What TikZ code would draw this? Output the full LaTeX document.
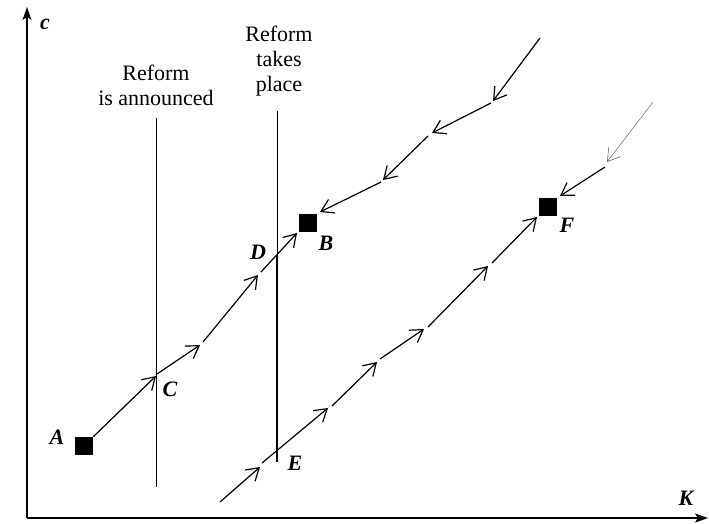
\documentclass[tikz,border=0pt]{standalone}
\usepackage{fontspec}
\setmainfont{Liberation Serif}
\usetikzlibrary{arrows.meta}
\begin{document}
\begin{tikzpicture}[x=1pt,y=-1pt,
  flow/.style={line width=1.2pt,-{Straight Barb[length=12pt,width=15pt,line width=1.2pt]}},
  thinflow/.style={line width=0.5pt,draw=black!60,-{Straight Barb[length=12pt,width=15pt,line width=0.6pt]}},
  axis/.style={line width=1.3pt,-{Stealth[length=13pt,width=9pt,inset=3pt]}},
  sq/.style={fill=black,minimum size=18pt,inner sep=0pt},
  lbl/.style={font=\fontsize{22}{22}\selectfont\bfseries\itshape},
  txt/.style={font=\fontsize{22}{25}\selectfont,align=center}]
\useasboundingbox (0,0) rectangle (709,524);
% axes
\coordinate (O) at (27,518);
\coordinate (Ytop) at (27,7);
\coordinate (Xend) at (708,518);
\draw[axis] (O) -- (Ytop);
\draw[axis] (O) -- (Xend);
\node[lbl] (lc) at (45,24) {c};
\node[lbl] (lK) at (686,498) {K};
% vertical lines
\coordinate (ann1) at (156,118);
\coordinate (ann2) at (156,487);
\draw[line width=0.8pt] (ann1) -- (ann2);
\coordinate (tak1) at (277,111);
\coordinate (tak2) at (277,462);
\coordinate (Dv) at (277,255);
\draw[line width=0.8pt] (tak1) -- (Dv);
\draw[line width=2pt] (Dv) -- (tak2);
\node[txt] (tann) at (156,85) {Reform\\is announced};
\node[txt] (ttak) at (279,61) {Reform\\takes\\place};
% equilibria
\node[sq] (A) at (84,446) {};
\node[sq] (B) at (308,223) {};
\node[sq] (F) at (548,207) {};
\node[lbl] (lA) at (57,437) {A};
\node[lbl] (lB) at (326,243) {B};
\node[lbl] (lF) at (567,225) {F};
\node[lbl] (lC) at (170,389) {C};
\node[lbl] (lD) at (258,252) {D};
\node[lbl] (lE) at (295,463) {E};
% path A -> C -> B
\coordinate (C) at (156,376);
\coordinate (c1) at (157,374);
\coordinate (c2) at (200,345);
\coordinate (c3) at (203,342);
\coordinate (c4) at (258,275);
\coordinate (c5) at (261,272);
\coordinate (c6) at (297,233);
\draw[flow] (A.north east) -- (C);
\draw[flow] (c1) -- (c2);
\draw[flow] (c3) -- (c4);
\draw[flow] (c5) -- (c6);
% path from top into B
\coordinate (b1) at (540,38);
\coordinate (b2) at (493,101);
\coordinate (b3) at (491,103);
\coordinate (b4) at (432,133);
\coordinate (b5) at (428,136);
\coordinate (b6) at (383,180);
\coordinate (b7) at (381,182);
\coordinate (b8) at (320,212);
\draw[flow] (b1) -- (b2);
\draw[flow] (b3) -- (b4);
\draw[flow] (b5) -- (b6);
\draw[flow] (b7) -- (b8);
% path E -> F
\coordinate (e1) at (220,502);
\coordinate (e2) at (260,467);
\coordinate (e3) at (262,463);
\coordinate (e4) at (328,408);
\coordinate (e5) at (332,406);
\coordinate (e6) at (377,362);
\coordinate (e7) at (380,359);
\coordinate (e8) at (424,329);
\coordinate (e9) at (428,327);
\coordinate (e10) at (488,266);
\coordinate (e11) at (492,263);
\coordinate (e12) at (537,217);
\draw[flow] (e1) -- (e2);
\draw[flow] (e3) -- (e4);
\draw[flow] (e5) -- (e6);
\draw[flow] (e7) -- (e8);
\draw[flow] (e9) -- (e10);
\draw[flow] (e11) -- (e12);
% path from top into F
\coordinate (f1) at (653,102);
\coordinate (f2) at (607,162);
\coordinate (f3) at (605,167);
\coordinate (f4) at (560,196);
\draw[thinflow] (f1) -- (f2);
\draw[flow] (f3) -- (f4);
\end{tikzpicture}
\end{document}
